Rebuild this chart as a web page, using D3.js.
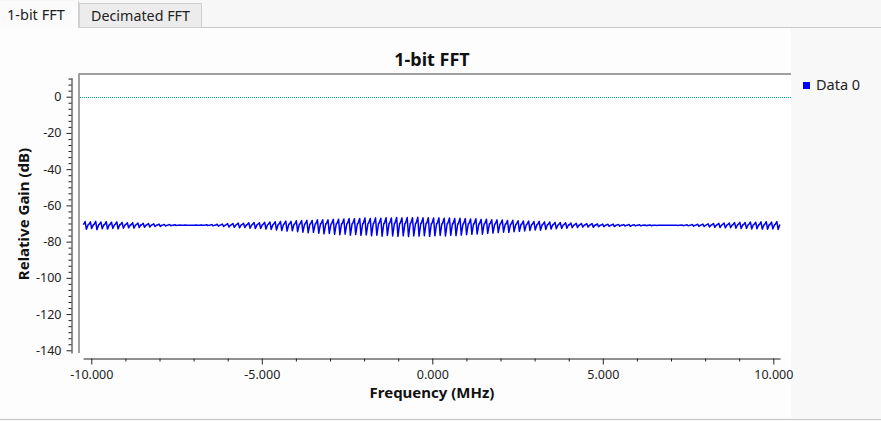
<!DOCTYPE html>
<html>
<head>
<meta charset="utf-8">
<script src="https://cdn.jsdelivr.net/npm/d3@7"></script>
<style>
  body { margin: 0; background: #f7f7f7; }
  svg { display: block; font-family: "Noto Sans", "Open Sans", sans-serif; }
</style>
</head>
<body>
<div id="chart"></div>
<script>
var w = 881,
    h = 421;

// tabs
var tabNames = ["1-bit FFT", "Decimated FFT"];

// axis ticks
var freqTicks = [-10, -5, 0, 5, 10];
var gainTicks = [0, -20, -40, -60, -80, -100, -120, -140];

// fft bins span (MHz)
var fStart = -10.24,
    fEnd = 10.2;

// spectrum, per comb tooth: level between spurs, spur top, spur bottom (dB)
var levels = [
  -70.7, -70.6, -70.7, -70.6, -70.7, -70.7, -70.6, -70.7, -70.7, -70.8, -70.7, -70.8,
  -70.8, -70.8, -70.9, -70.9, -70.9, -71.0, -71.0, -71.0, -71.0, -71.0, -71.0, -70.9,
  -70.9, -70.9, -70.8, -70.8, -70.8, -70.7, -70.7, -70.7, -70.6, -70.6, -70.6, -70.5,
  -70.5, -70.5, -70.4, -70.4, -70.4, -70.3, -70.3, -70.3, -70.2, -70.2, -70.2, -70.1,
  -70.1, -70.1, -70.0, -70.0, -70.0, -70.0, -69.9, -69.9, -69.9, -69.9, -69.9, -69.9,
  -69.9, -69.9, -69.9, -69.9, -69.9, -70.0, -70.0, -70.0, -70.0, -70.0, -70.1, -70.1,
  -70.1, -70.1, -70.2, -70.2, -70.2, -70.3, -70.3, -70.3, -70.4, -70.4, -70.4, -70.5,
  -70.5, -70.5, -70.6, -70.6, -70.6, -70.7, -70.7, -70.7, -70.8, -70.8, -70.8, -70.8,
  -70.8, -70.9, -70.9, -70.9, -70.9, -70.9, -71.0, -71.0, -71.0, -71.0, -71.0, -71.0,
  -71.0, -71.0, -71.0, -71.0, -71.0, -71.0, -70.9, -70.9, -70.9, -70.8, -70.8, -70.8,
  -70.8, -70.7, -70.7, -70.7, -70.6, -70.7, -70.6, -70.6, -70.7, -70.6, -70.7, -70.6
];
var peaks = [
  -68.9, -69.1, -68.8, -69.2, -69.0, -69.3, -69.1, -69.4, -69.6, -69.5, -69.8, -69.9,
  -70.0, -70.2, -70.3, -70.5, -70.6, -70.7, -70.8, -70.8, -70.9, -70.8, -70.8, -70.7,
  -70.6, -70.4, -70.3, -70.1, -70.0, -69.8, -69.9, -69.6, -69.5, -69.6, -69.3, -69.2,
  -69.0, -68.9, -68.7, -68.8, -68.5, -68.4, -68.2, -68.3, -68.0, -67.9, -68.0, -67.7,
  -67.6, -67.5, -67.3, -67.4, -67.2, -67.0, -67.2, -66.9, -67.1, -66.8, -67.0, -66.7,
  -66.9, -66.7, -66.8, -66.6, -66.9, -66.8, -67.0, -66.9, -67.1, -67.0, -67.2, -67.1,
  -67.3, -67.5, -67.4, -67.7, -67.6, -67.9, -68.0, -68.1, -68.3, -68.2, -68.5, -68.6,
  -68.7, -68.9, -68.8, -69.1, -69.2, -69.4, -69.5, -69.6, -69.8, -69.9, -70.0, -70.1,
  -70.0, -70.2, -70.3, -70.4, -70.3, -70.5, -70.6, -70.5, -70.7, -70.7, -70.8, -70.8,
  -70.9, -70.9, -70.9, -71.0, -70.9, -70.8, -70.7, -70.6, -70.4, -70.3, -70.2, -70.0,
  -69.9, -69.7, -69.8, -69.5, -69.4, -69.5, -69.2, -69.3, -69.1, -69.0, -69.2, -68.9
];
var dips = [
  -73.2, -72.8, -73.4, -72.9, -73.1, -72.7, -73.0, -72.6, -72.4, -72.5, -72.2, -72.1,
  -71.9, -71.7, -71.6, -71.4, -71.2, -71.1, -71.0, -71.0, -70.9, -71.0, -71.0, -71.1,
  -71.3, -71.5, -71.7, -71.9, -72.1, -72.4, -72.2, -72.6, -72.8, -72.7, -73.1, -73.3,
  -73.6, -73.9, -74.2, -74.0, -74.5, -74.8, -75.1, -74.9, -75.4, -75.7, -75.5, -76.0,
  -76.2, -75.9, -76.4, -76.1, -76.6, -76.3, -76.8, -76.5, -77.0, -76.6, -76.9, -77.1,
  -76.8, -77.2, -76.9, -77.0, -76.7, -77.1, -76.8, -76.6, -76.9, -76.5, -76.7, -76.4,
  -76.2, -76.0, -75.8, -75.9, -75.5, -75.3, -75.0, -74.8, -74.9, -74.5, -74.3, -74.1,
  -73.9, -73.6, -73.7, -73.3, -73.1, -72.9, -72.7, -72.6, -72.3, -72.2, -72.0, -71.9,
  -72.1, -71.8, -71.7, -71.6, -71.7, -71.5, -71.4, -71.5, -71.3, -71.3, -71.2, -71.2,
  -71.1, -71.0, -71.0, -71.0, -71.1, -71.2, -71.3, -71.5, -71.6, -71.7, -71.9, -72.1,
  -72.2, -72.4, -72.3, -72.6, -72.8, -72.7, -73.0, -72.9, -73.1, -73.2, -73.0, -73.3
];

var refLevel = 0;

var svg = d3.select("#chart")
  .append("svg")
  .attr("width", w)
  .attr("height", h);

// background panels
svg.append("rect").attr("x", 0).attr("y", 0).attr("width", w).attr("height", h).attr("fill", "#f7f7f7");
svg.append("rect").attr("x", 0).attr("y", 28).attr("width", w).attr("height", 391).attr("fill", "#f8f8f8");
svg.append("rect").attr("x", 0).attr("y", 28).attr("width", 791).attr("height", 390).attr("fill", "#fdfdfd");
svg.append("line").attr("x1", 0).attr("x2", w).attr("y1", 419.5).attr("y2", 419.5).attr("stroke", "#c9c9c9");

// tabs
svg.append("line").attr("x1", 78).attr("x2", w).attr("y1", 27.5).attr("y2", 27.5).attr("stroke", "#c9c9c9");
svg.append("rect").attr("x", 0).attr("y", 1).attr("width", 78).attr("height", 27).attr("fill", "#fbfbfb");
svg.append("line").attr("x1", 78.5).attr("x2", 78.5).attr("y1", 1).attr("y2", 28).attr("stroke", "#d0d0d0");
svg.append("rect").attr("x", 79.5).attr("y", 3.5).attr("width", 122).attr("height", 24)
  .attr("fill", "#ececec").attr("stroke", "#cfcfcf");
svg.append("text").attr("x", 7).attr("y", 20).attr("font-size", 14.5).attr("fill", "#222").text(tabNames[0]);
svg.append("text").attr("x", 91).attr("y", 21).attr("font-size", 14.3).attr("fill", "#222").text(tabNames[1]);

// scales
var x = d3.scaleLinear().domain([fStart, fEnd]).range([432.3 + 34.1 * fStart, 432.3 + 34.1 * fEnd]);
var y = d3.scaleLinear().domain([-141.5, 10.5]).range([96.7 + 1.8114 * 141.5, 96.7 - 1.8114 * 10.5]);

// canvas
var cx0 = 78, cx1 = 791, cy0 = 73, cy1 = 353;
svg.append("rect").attr("x", cx0).attr("y", cy0).attr("width", cx1 - cx0).attr("height", cy1 - cy0).attr("fill", "#fff");
svg.append("line").attr("x1", cx0).attr("x2", cx1).attr("y1", cy0 + 1).attr("y2", cy0 + 1).attr("stroke", "#a0a0a0").attr("stroke-width", 2);
svg.append("line").attr("x1", cx0 + 1).attr("x2", cx0 + 1).attr("y1", cy0).attr("y2", cy1).attr("stroke", "#a0a0a0").attr("stroke-width", 2);

// reference line at 0 dB
svg.append("line")
  .attr("x1", cx0 + 2).attr("x2", cx1)
  .attr("y1", Math.round(y(refLevel)) + 0.5).attr("y2", Math.round(y(refLevel)) + 0.5)
  .attr("stroke", "#00a8a8").attr("stroke-width", 1).attr("stroke-dasharray", "1,1");

// spectrum trace: each tooth is a flat stretch with a spur in its middle
var toothW = (fEnd - fStart) / peaks.length;
var trace = [];
for (var i = 0; i < peaks.length; i++) {
  var fc = fStart + toothW * (i + 0.5);
  trace.push({ f: fc - 0.45 * toothW, g: levels[i] });
  trace.push({ f: fc - 0.12 * toothW, g: peaks[i] });
  trace.push({ f: fc + 0.12 * toothW, g: dips[i] });
  trace.push({ f: fc + 0.45 * toothW, g: levels[i] });
}
svg.append("path")
  .datum(trace)
  .attr("fill", "none")
  .attr("stroke", "#0000f0")
  .attr("stroke-width", 1.5)
  .attr("stroke-linejoin", "round")
  .attr("d", d3.line().x(function(d) { return x(d.f); }).y(function(d) { return y(d.g); }));

// x axis
var xAxisY = 358;
var gx = svg.append("g").attr("transform", "translate(0," + (xAxisY + 0.5) + ")");
gx.call(d3.axisBottom(x).tickValues(freqTicks).tickSize(6).tickSizeOuter(0).tickPadding(6)
  .tickFormat(function(d) { return d.toFixed(3); }));
gx.append("g").call(d3.axisBottom(x).tickValues(d3.range(-10, 11, 1).filter(function(d) { return d % 5 != 0; }))
  .tickSize(3).tickFormat(""))
  .select(".domain").remove();
gx.selectAll("text").attr("font-size", 12.5).attr("fill", "#222").attr("font-family", "Noto Sans, sans-serif");
gx.selectAll("line, path").attr("stroke", "#222");

// y axis
var yAxisX = 72;
var gy = svg.append("g").attr("transform", "translate(" + (yAxisX - 0.5) + ",0)");
gy.call(d3.axisLeft(y).tickValues(gainTicks).tickSize(5).tickSizeOuter(0).tickPadding(5)
  .tickFormat(function(d) { return String(d); }));
var minorG = d3.range(-140, 10.1, 20 / 6).map(function(d) { return Math.round(d * 100) / 100; })
  .filter(function(d) { return Math.abs(d % 20) > 0.1 && Math.abs(d % 20) < 19.9; });
gy.append("g").call(d3.axisLeft(y).tickValues(minorG).tickSize(3).tickFormat(""))
  .select(".domain").remove();
gy.selectAll("text").attr("font-size", 12.5).attr("fill", "#222").attr("font-family", "Noto Sans, sans-serif");
gy.selectAll("line, path").attr("stroke", "#222");

// titles
svg.append("text").attr("x", 432).attr("y", 66).attr("text-anchor", "middle")
  .attr("font-size", 18).attr("font-weight", "bold").attr("fill", "#111").text("1-bit FFT");
svg.append("text").attr("x", 432).attr("y", 398).attr("text-anchor", "middle")
  .attr("font-size", 15).attr("font-weight", "bold").attr("fill", "#111").text("Frequency (MHz)");
svg.append("text").attr("transform", "translate(29,214) rotate(-90)").attr("text-anchor", "middle")
  .attr("font-size", 15).attr("font-weight", "bold").attr("fill", "#111").text("Relative Gain (dB)");

// legend
svg.append("rect").attr("x", 803).attr("y", 82).attr("width", 7).attr("height", 7).attr("fill", "#0000ff");
svg.append("text").attr("x", 816).attr("y", 90).attr("font-size", 14.5).attr("fill", "#222").text("Data 0");
</script>
</body>
</html>
